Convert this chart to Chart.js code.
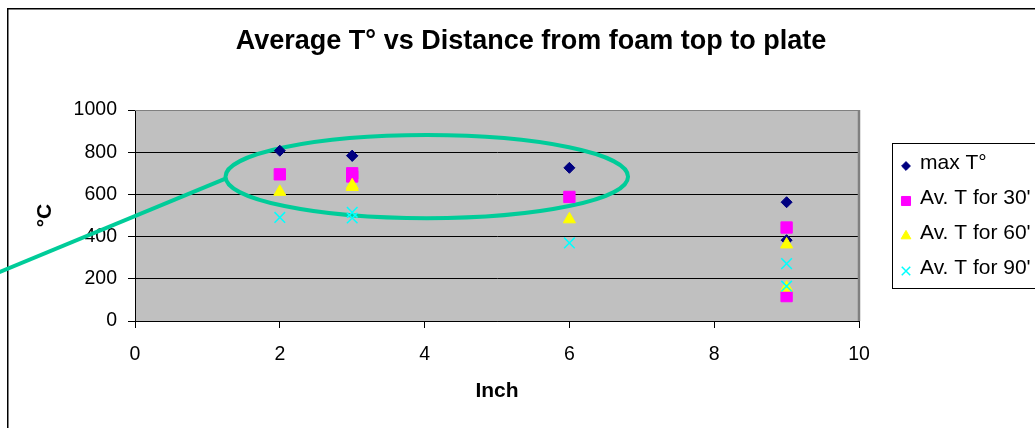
<!DOCTYPE html>
<html>
<head>
  <meta charset="utf-8">
  <title>Average T° vs Distance</title>
  <script src="https://cdn.jsdelivr.net/npm/chart.js@4.4.0/dist/chart.umd.min.js"></script>
  <style>
    html, body { margin: 0; padding: 0; background: #fff; }
    canvas { display: block; }
  </style>
</head>
<body>
  <canvas id="myChart" width="1035" height="428"></canvas>
  <script>
    // distance from foam top to plate (inch) and temperatures (°C)
    var INCH   = [2, 3, 3, 6, 9, 9];
    var MAX_T  = [807, 783, 783, 726, 563, 383];
    var AVG_30 = [695, 700, 685, 588, 443, 118];
    var AVG_60 = [612, 643, 635, 482, 363, 158];
    var AVG_90 = [491, 515, 488, 370, 272, 165];
    var SERIES_NAMES = ["max T°", "Av. T for 30'", "Av. T for 60'", "Av. T for 90'"];

    var X_RANGE = [0, 10], X_STEP = 2;
    var Y_RANGE = [0, 1000], Y_STEP = 200;

    // highlight ring around the 2-6 inch readings, in data units
    var RING_CENTER = [4.03, 684];
    var RING_RADII = [2.78, 197];
    var POINTER_FROM = [-1.9, 228];

    Chart.defaults.font.family = "'Liberation Sans', Arial, sans-serif";
    Chart.defaults.color = '#000';

    function toPoints(ys) {
      return INCH.map(function(x, i) { return { x: x, y: ys[i] }; });
    }

    var STYLES = [
      { pointStyle: 'rectRot',  radius: 5.5, color: '#000080', borderWidth: 1 },
      { pointStyle: 'rect',     radius: 8,   color: '#ff00ff', borderWidth: 1 },
      { pointStyle: 'triangle', radius: 7,   color: '#ffff00', borderWidth: 1 },
      { pointStyle: 'crossRot', radius: 7.5, color: '#00ffff', borderWidth: 1.5 }
    ];
    var VALUES = [MAX_T, AVG_30, AVG_60, AVG_90];

    var datasets = SERIES_NAMES.map(function(name, i) {
      var s = STYLES[i];
      return {
        label: name,
        data: toPoints(VALUES[i]),
        pointStyle: s.pointStyle,
        pointRadius: s.radius,
        pointBackgroundColor: s.color,
        pointBorderColor: s.color,
        pointBorderWidth: s.borderWidth,
        order: SERIES_NAMES.length - i
      };
    });

    var plotFrame = {
      id: 'plotFrame',
      beforeDraw: function(chart) {
        var a = chart.chartArea, ctx = chart.ctx;
        ctx.save();
        ctx.fillStyle = '#fff';
        ctx.fillRect(0, 0, chart.width, chart.height);
        ctx.strokeStyle = '#000';
        ctx.lineWidth = 1.5;
        ctx.strokeRect(7.75, 8.75, chart.width + 20, chart.height + 20);
        ctx.fillStyle = '#c0c0c0';
        ctx.fillRect(a.left, a.top, a.right - a.left, a.bottom - a.top);
        ctx.restore();
      },
      beforeDatasetsDraw: function(chart) {
        var a = chart.chartArea, ctx = chart.ctx;
        var xs = chart.scales.x, ys = chart.scales.y;
        ctx.save();
        // gray frame on top and right of the plot
        ctx.strokeStyle = '#808080';
        ctx.lineWidth = 1;
        ctx.beginPath();
        ctx.moveTo(a.left, a.top + 0.5);
        ctx.lineTo(a.right, a.top + 0.5);
        ctx.stroke();
        ctx.lineWidth = 2.5;
        ctx.beginPath();
        ctx.moveTo(a.right, a.top);
        ctx.lineTo(a.right, a.bottom);
        ctx.stroke();

        // ring and pointer
        var cx = xs.getPixelForValue(RING_CENTER[0]);
        var cy = ys.getPixelForValue(RING_CENTER[1]);
        var rx = xs.getPixelForValue(RING_CENTER[0] + RING_RADII[0]) - cx;
        var ry = cy - ys.getPixelForValue(RING_CENTER[1] + RING_RADII[1]);
        ctx.strokeStyle = '#00cc99';
        ctx.lineWidth = 4;
        ctx.beginPath();
        ctx.ellipse(cx, cy, rx, ry, 0, 0, Math.PI * 2);
        ctx.stroke();
        ctx.beginPath();
        ctx.moveTo(xs.getPixelForValue(POINTER_FROM[0]), ys.getPixelForValue(POINTER_FROM[1]));
        ctx.lineTo(cx - rx, cy + 2);
        ctx.stroke();
        ctx.restore();
      },
      afterDraw: function(chart) {
        var ctx = chart.ctx;
        ctx.save();
        // legend box
        ctx.fillStyle = '#fff';
        ctx.fillRect(893, 144, 200, 144);
        ctx.strokeStyle = '#000';
        ctx.lineWidth = 1;
        ctx.strokeRect(892.5, 143.5, 200, 145);
        ctx.font = "21px 'Liberation Sans', Arial, sans-serif";
        ctx.textBaseline = 'middle';
        ctx.textAlign = 'left';
        SERIES_NAMES.forEach(function(name, i) {
          var s = STYLES[i];
          var y = 163 + i * 35;
          ctx.fillStyle = s.color;
          ctx.strokeStyle = s.color;
          ctx.lineWidth = s.borderWidth;
          Chart.helpers.drawPoint(ctx, {
            pointStyle: s.pointStyle,
            radius: s.radius * 0.8,
            rotation: 0,
            borderWidth: s.borderWidth
          }, 906, y + 3);
          ctx.fillStyle = '#000';
          ctx.fillText(name, 920, y);
        });
        ctx.restore();
      }
    };

    var ctx = document.getElementById('myChart');

    var myChart = new Chart(ctx, {
      type: 'scatter',
      data: { datasets: datasets },
      plugins: [plotFrame],
      options: {
        responsive: false,
        animation: false,
        events: [],
        layout: { padding: { left: 27, right: 0, top: 0, bottom: 0 } },
        plugins: {
          legend: { display: false },
          tooltip: { enabled: false },
          title: {
            display: true,
            text: 'Average T° vs Distance from foam top to plate',
            font: { size: 27, weight: 'bold' },
            color: '#000',
            padding: { top: 25, bottom: 52.6 }
          }
        },
        scales: {
          x: {
            type: 'linear',
            position: 'bottom',
            min: X_RANGE[0],
            max: X_RANGE[1],
            ticks: { stepSize: X_STEP, font: { size: 19.5 }, padding: 15, color: '#000' },
            grid: { drawOnChartArea: false, drawTicks: true, tickLength: 7, tickColor: '#000' },
            border: { color: '#000', width: 1 },
            title: {
              display: true,
              text: 'Inch',
              font: { size: 21, weight: 'bold' },
              padding: { top: 0, bottom: 24.4 }
            },
            afterFit: function(scale) { scale.height = 107; }
          },
          y: {
            type: 'linear',
            position: 'left',
            min: Y_RANGE[0],
            max: Y_RANGE[1],
            ticks: {
              stepSize: Y_STEP,
              font: { size: 19.5 },
              padding: 11,
              color: '#000',
              callback: function(v) { return String(v); }
            },
            grid: {
              color: function(c) { return c.tick && c.tick.value === Y_RANGE[1] ? 'rgba(0,0,0,0)' : '#000'; },
              tickLength: 7,
              tickColor: '#000'
            },
            border: { color: '#000', width: 1 },
            title: {
              display: true,
              text: '°C',
              font: { size: 21, weight: 'bold' },
              padding: { top: 5.4, bottom: 0 }
            },
            afterFit: function(scale) { scale.width = 108; }
          },
          // empty strip that keeps the plot clear of the legend
          side: {
            type: 'linear',
            position: 'right',
            ticks: { display: false },
            grid: { display: false },
            border: { display: false },
            afterFit: function(scale) { scale.width = 176; }
          }
        }
      }
    });
  </script>
</body>
</html>
